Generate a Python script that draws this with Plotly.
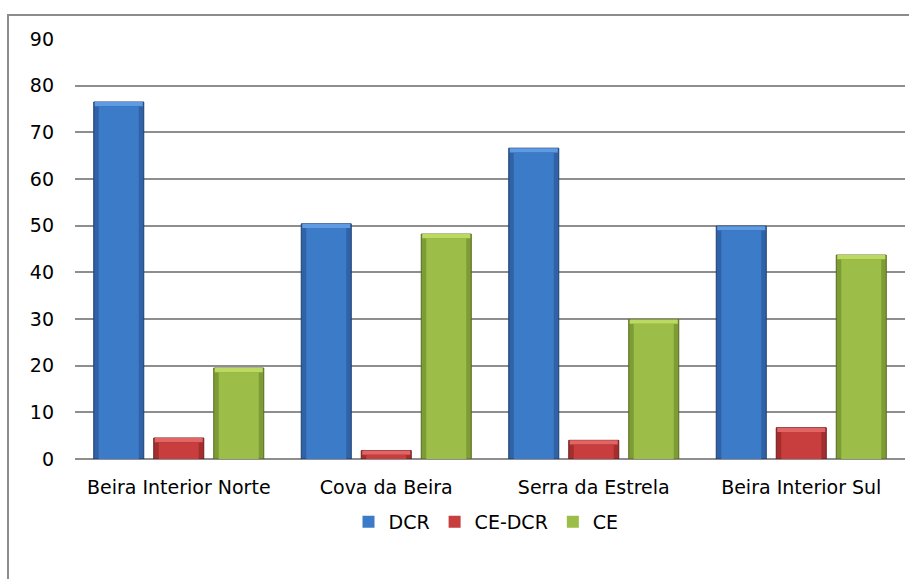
import plotly.graph_objects as go

# Regions and indicator values
regions = ["Beira Interior Norte", "Cova da Beira", "Serra da Estrela", "Beira Interior Sul"]
dcr = [76.5, 50.4, 66.6, 49.9]
ce_dcr = [4.5, 1.8, 4.0, 6.7]
ce = [19.5, 48.2, 29.9, 43.7]

y_ticks = [0, 10, 20, 30, 40, 50, 60, 70, 80, 90]

# name, values, body colour, side colour, top highlight, outline
series = [
    ("DCR", dcr, "#3C7BC8", "#2F62A6", "#5E9BE2", "#1C3F6E"),
    ("CE-DCR", ce_dcr, "#C83D3D", "#A42E2E", "#E26565", "#6E1C1C"),
    ("CE", ce, "#9CBE48", "#7E9C35", "#BCDA62", "#55681F"),
]

FONT = "DejaVu Sans"
FS = 19

W, H = 909, 579
L, R, T, B = 75, 4, 39, 120
pw, ph = W - L - R, H - T - B

# bar geometry in category units (one category = pw / 4 px)
cat_px = pw / len(regions)
slot = 60 / cat_px          # distance between neighbouring bars
bar_w = 50 / cat_px         # full bar width
inner_w = 40 / cat_px       # bevelled face width
bevel = 0.9                 # height of the top bevel, data units

fig = go.Figure()
for i, (name, vals, body, side, top, edge) in enumerate(series):
    centre = (i - 1) * slot
    # outer bar: dark sides and outline
    fig.add_trace(go.Bar(
        name=name, x=regions, y=vals, legendgroup=name, showlegend=False,
        width=bar_w, offset=centre - bar_w / 2,
        marker=dict(color=side, line=dict(color=edge, width=1)),
        hoverinfo="skip",
    ))
    # lit top bevel
    fig.add_trace(go.Bar(
        name=name, x=regions, y=[min(bevel, v) for v in vals],
        base=[v - min(bevel, v) for v in vals],
        legendgroup=name, showlegend=False,
        width=bar_w - 2 / cat_px, offset=centre - (bar_w - 2 / cat_px) / 2,
        marker=dict(color=top, line=dict(width=0)),
        hoverinfo="skip",
    ))
    # flat face of the bar
    fig.add_trace(go.Bar(
        name=name, x=regions, y=[max(v - bevel, 0) for v in vals],
        legendgroup=name, showlegend=True,
        width=inner_w, offset=centre - inner_w / 2,
        marker=dict(color=body, line=dict(color=edge, width=0)),
    ))

fig.update_layout(
    width=W, height=H,
    margin=dict(l=L, r=R, t=T, b=B),
    paper_bgcolor="white", plot_bgcolor="white",
    barmode="overlay",
    font=dict(family=FONT, size=FS, color="black"),
    showlegend=True,
    legend=dict(
        orientation="h", x=(486 - L) / pw, xanchor="center",
        y=(H - B - 522) / ph, yanchor="middle",
        font=dict(family=FONT, size=FS), itemwidth=30,
        traceorder="normal",
    ),
    xaxis=dict(
        showgrid=False, showline=False, ticks="",
        tickfont=dict(family=FONT, size=FS), ticklabelstandoff=15,
    ),
    yaxis=dict(
        range=[0, 90], tickvals=y_ticks, showgrid=True,
        gridcolor="#8E8E8E", gridwidth=2, zeroline=True,
        zerolinecolor="#8E8E8E", zerolinewidth=2, showline=False,
        ticks="", ticklabelstandoff=20,
        tickfont=dict(family=FONT, size=FS),
    ),
    shapes=[dict(
        type="rect", xref="paper", yref="paper",
        x0=(8 - L) / pw, x1=(912 - L) / pw,
        y0=(H - B - 582) / ph, y1=(H - B - 15) / ph,
        line=dict(color="#8C8C8C", width=2), layer="below",
    )],
)

fig.write_html("out.html")
